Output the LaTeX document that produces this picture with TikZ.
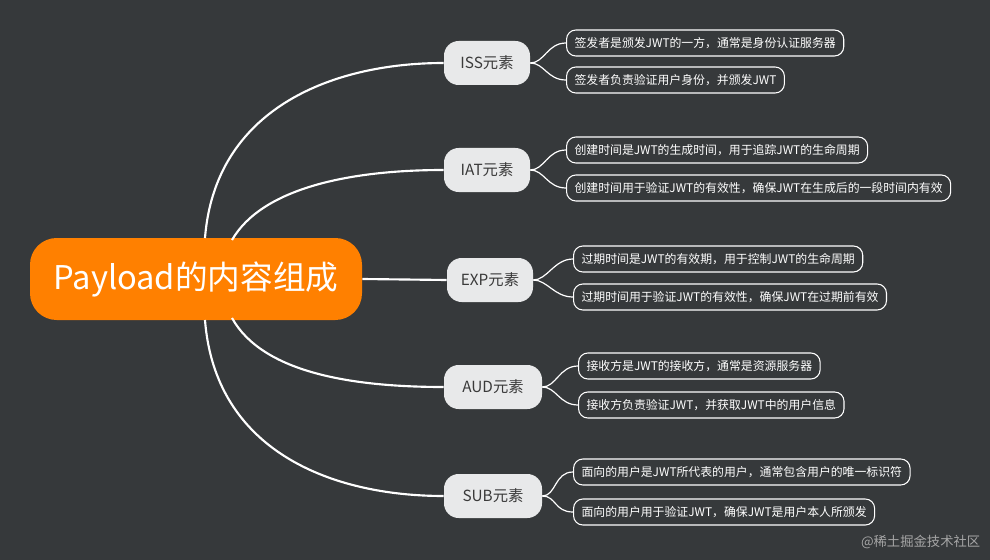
\documentclass[tikz,border=0pt]{standalone}
\usepackage{fontspec}
\setmainfont{Noto Sans CJK SC}
\begin{document}
\begin{tikzpicture}[x=0.75pt,y=-0.75pt,
  root/.style={fill=rootc,rounded corners=20pt,text=white,font=\fontsize{24.5}{28}\selectfont,minimum width=332*0.75pt,minimum height=82*0.75pt,inner sep=0},
  br/.style={fill=brc,rounded corners=11pt,text=textd,font=\fontsize{11.5}{13}\selectfont,minimum height=44*0.75pt,minimum width=86*0.75pt,inner sep=0},
  leaf/.style={draw=white,line width=0.8pt,rounded corners=7pt,text=white,font=\fontsize{8.9}{10}\selectfont,minimum height=26*0.75pt,inner xsep=6pt,inner ysep=0,anchor=west},
  con/.style={draw=white,line width=1.6pt},
  lcon/.style={draw=white,line width=0.9pt}]
\definecolor{bg}{HTML}{36393B}
\definecolor{rootc}{HTML}{FF8000}
\definecolor{brc}{HTML}{E8E9EA}
\definecolor{textd}{HTML}{3A3A3A}
\fill[bg] (0,0) rectangle (990,560);
\useasboundingbox (0,0) rectangle (990,560);
\node[root] (R) at (196,279) {Payload的内容组成};
\node[br] (b1) at (487,63) {ISS元素};
\node[br] (b2) at (487,170) {IAT元素};
\node[br] (b3) at (490,280) {EXP元素};
\node[br,minimum width=98*0.75pt] (b4) at (493,387) {AUD元素};
\node[br,minimum width=98*0.75pt] (b5) at (493,496) {SUB元素};
\coordinate (r1) at (205,238); \coordinate (r2) at (232,240);
\coordinate (r4) at (232,318); \coordinate (r5) at (205,320);
\draw[con] (r1) .. controls (215,110) and (330,63) .. (b1.west);
\draw[con] (r2) .. controls (262,188) and (350,170) .. (b2.west);
\draw[con] (R.east) -- (b3.west);
\draw[con] (r4) .. controls (262,372) and (350,387) .. (b4.west);
\draw[con] (r5) .. controls (215,450) and (330,496) .. (b5.west);
\node[leaf] (l1) at (566,43) {签发者是颁发JWT的一方，通常是身份认证服务器};
\node[leaf] (l2) at (566,80) {签发者负责验证用户身份，并颁发JWT};
\node[leaf] (l3) at (566,150) {创建时间是JWT的生成时间，用于追踪JWT的生命周期};
\node[leaf] (l4) at (566,188) {创建时间用于验证JWT的有效性，确保JWT在生成后的一段时间内有效};
\node[leaf] (l5) at (573,259) {过期时间是JWT的有效期，用于控制JWT的生命周期};
\node[leaf] (l6) at (573,297) {过期时间用于验证JWT的有效性，确保JWT在过期前有效};
\node[leaf] (l7) at (578,366) {接收方是JWT的接收方，通常是资源服务器};
\node[leaf] (l8) at (578,405) {接收方负责验证JWT，并获取JWT中的用户信息};
\node[leaf] (l9) at (573,472) {面向的用户是JWT所代表的用户，通常包含用户的唯一标识符};
\node[leaf] (l10) at (573,512) {面向的用户用于验证JWT，确保JWT是用户本人所颁发};
\foreach \b/\u/\d in {b1/l1/l2,b2/l3/l4,b3/l5/l6,b4/l7/l8,b5/l9/l10}{
  \draw[lcon] (\b.east) .. controls +(14,0) and ([xshift=-14pt]\u.west) .. (\u.west);
  \draw[lcon] (\b.east) .. controls +(14,0) and ([xshift=-14pt]\d.west) .. (\d.west);
}
\node[text=gray!70,font=\fontsize{10}{12}\selectfont,anchor=east] (wm) at (985,542) {@稀土掘金技术社区};
\end{tikzpicture}
\end{document}
